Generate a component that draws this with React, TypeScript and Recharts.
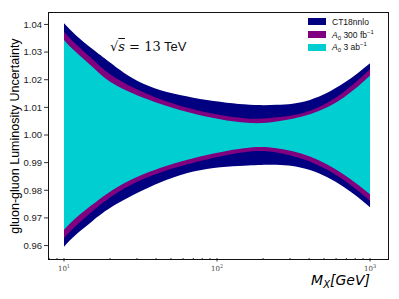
import { ComposedChart, Area, XAxis, YAxis } from "recharts"

// values, M_X in GeV (log axis)
const masses = [10, 12, 15.5, 20, 33, 70, 150, 245, 405, 670, 1000]

const ctUpper = [1.0404, 1.036, 1.0309, 1.0262, 1.0185, 1.0135, 1.0111, 1.0109, 1.0127, 1.0187, 1.026]
const ctLower = [0.9596, 0.964, 0.9691, 0.9736, 0.9801, 0.9868, 0.9889, 0.9892, 0.9873, 0.9813, 0.9739]
const a300Upper = [1.0374, 1.0328, 1.0272, 1.022, 1.0155, 1.0093, 1.0061, 1.0064, 1.0088, 1.0155, 1.0239]
const a300Lower = [0.9627, 0.9672, 0.9726, 0.9774, 0.9841, 0.99, 0.9938, 0.9937, 0.9904, 0.9838, 0.9762]
const a3Upper = [1.0344, 1.0299, 1.0244, 1.0193, 1.0135, 1.0078, 1.0045, 1.0049, 1.0075, 1.0135, 1.0215]
const a3Lower = [0.9657, 0.9701, 0.975, 0.9795, 0.9858, 0.9916, 0.9952, 0.9952, 0.9922, 0.9858, 0.9786]

const yTicks = [0.96, 0.97, 0.98, 0.99, 1.0, 1.01, 1.02, 1.03, 1.04]
const xMajor = [10, 100, 1000]
const xTicks = [8, 9, 10, 20, 30, 40, 50, 60, 70, 80, 90, 100, 200, 300, 400, 500, 600, 700, 800, 900, 1000]

const xDomain: [number, number] = [7.86, 1291]
const yDomain: [number, number] = [0.9555, 1.0445]

const NAVY = "#000080"
const PURPLE = "#800080"
const CYAN = "#00ced1"

const legendItems = [
  { key: "ct", color: NAVY },
  { key: "a300", color: PURPLE },
  { key: "a3", color: CYAN },
]

const data = masses.map((m, i) => ({
  m,
  ct: [ctLower[i], ctUpper[i]],
  a300: [a300Lower[i], a300Upper[i]],
  a3: [a3Lower[i], a3Upper[i]],
}))

const sans = "'Liberation Sans', Arial, sans-serif"

function LogTick(props: any) {
  const { x, y, payload } = props
  const v = payload.value
  const major = xMajor.includes(v)
  const exp = Math.round(Math.log10(v))
  return (
    <g>
      <line x1={x} x2={x} y1={y} y2={y + (major ? 3.5 : 2)} stroke="#000" strokeWidth={0.8} />
      {major && (
        <text x={x} y={y + 13} textAnchor="middle" fontFamily="'DejaVu Serif', serif" fontSize={7} fill="#444">
          10<tspan dy={-3} fontSize={5}>{exp}</tspan>
        </text>
      )}
    </g>
  )
}

function LegendLabel({ k }: { k: string }) {
  if (k === "ct") return <span>CT18nnlo</span>
  return (
    <span>
      <i>A</i>
      <span style={{ fontSize: 6, verticalAlign: -2 }}>0</span>
      {k === "a300" ? " 300 fb" : " 3 ab"}
      <span style={{ fontSize: 6, verticalAlign: 4 }}>−1</span>
    </span>
  )
}

export default function App() {
  return (
    <div style={{ position: "fixed", left: 0, top: 0, width: 399, height: 299, background: "#fff" }}>
      <ComposedChart width={399} height={299} data={data} margin={{ top: 12, right: 12, bottom: 0, left: 0 }}>
        <XAxis
          dataKey="m"
          type="number"
          scale="log"
          domain={xDomain}
          allowDataOverflow
          ticks={xTicks}
          interval={0}
          tick={<LogTick />}
          tickLine={false}
          tickSize={0}
          tickMargin={0}
          axisLine={false}
          height={41}
        />
        <YAxis
          type="number"
          domain={yDomain}
          allowDataOverflow
          ticks={yTicks}
          interval={0}
          width={48}
          tickSize={4}
          tickMargin={2}
          tickLine={{ stroke: "#000", strokeWidth: 0.8 }}
          axisLine={false}
          tickFormatter={(v: number) => v.toFixed(2)}
          tick={{ fontSize: 9.5, fill: "#222", fontFamily: sans }}
        />
        <Area dataKey="ct" type="natural" stroke="none" fill={NAVY} fillOpacity={1} isAnimationActive={false} />
        <Area dataKey="a300" type="natural" stroke="none" fill={PURPLE} fillOpacity={1} isAnimationActive={false} />
        <Area dataKey="a3" type="natural" stroke="none" fill={CYAN} fillOpacity={1} isAnimationActive={false} />
      </ComposedChart>
      {/* axes frame */}
      <div
        style={{
          position: "absolute",
          left: 47.5,
          top: 11.5,
          width: 339,
          height: 246,
          border: "1px solid #111",
          boxSizing: "content-box",
          pointerEvents: "none",
        }}
      />
      <div style={{ position: "absolute", left: 308, top: 15.5, fontFamily: sans, fontSize: 8.5, color: "#111" }}>
        {legendItems.map((it) => (
          <div key={it.key} style={{ display: "flex", alignItems: "center", height: 12.8 }}>
            <span style={{ width: 18, height: 7, background: it.color, marginRight: 6, display: "inline-block" }} />
            <LegendLabel k={it.key} />
          </div>
        ))}
      </div>
      <div
        style={{
          position: "absolute",
          left: 15,
          top: 136,
          transform: "translate(-50%, -50%) rotate(-90deg)",
          whiteSpace: "nowrap",
          fontFamily: sans,
          fontSize: 12.5,
          color: "#000",
        }}
      >
        gluon-gluon Luminosity Uncertainty
      </div>
      <div
        style={{
          position: "absolute",
          right: 29,
          top: 272,
          whiteSpace: "nowrap",
          fontFamily: "'DejaVu Sans', sans-serif",
          fontStyle: "italic",
          fontSize: 14,
          color: "#000",
        }}
      >
        M<span style={{ fontSize: 10, verticalAlign: -3 }}>X</span>[GeV]
      </div>
      <div
        style={{
          position: "absolute",
          left: 110,
          top: 39,
          whiteSpace: "nowrap",
          fontSize: 13,
          color: "#111",
        }}
      >
        <span style={{ fontFamily: "'DejaVu Serif', serif" }}>
          √<span style={{ fontStyle: "italic", textDecoration: "overline" }}>s</span> = 13
        </span>
        <span style={{ fontFamily: sans }}> TeV</span>
      </div>
    </div>
  )
}
